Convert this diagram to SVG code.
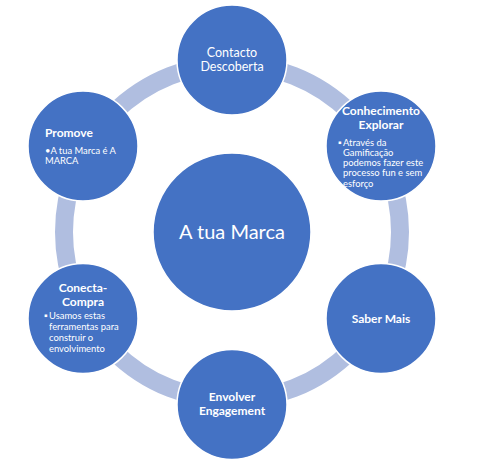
<svg xmlns="http://www.w3.org/2000/svg" width="481" height="474" viewBox="0 0 481 474">
<style>
.node{fill:#4472C4;stroke:#ffffff;stroke-width:1.5}
.t{font-family:Lato,"Open Sans","Liberation Sans",sans-serif;fill:#ffffff}
.h{font-size:12px;font-weight:bold;text-anchor:middle}
.hl{font-size:12px;font-weight:bold}
.n{font-size:12.5px;text-anchor:middle}
.b{font-size:9.4px}
</style>
<rect width="481" height="474" fill="#ffffff"/>
<g id="connectors">
<circle cx="232" cy="232" r="168" fill="none" stroke="#B0BEE0" stroke-width="18"/>
</g>
<g id="center">
<circle class="node" cx="232" cy="232" r="79"/>
<text class="t" x="232" y="238.5" font-size="20" text-anchor="middle">A tua Marca</text>
</g>
<g id="contacto">
<circle class="node" cx="232" cy="60" r="55"/>
<text class="t n" x="232" y="56.5">Contacto</text>
<text class="t n" x="232" y="70.5">Descoberta</text>
</g>
<g id="conhecimento">
<circle class="node" cx="381" cy="146" r="55"/>
<text class="t h" x="381" y="114.5">Conhecimento</text>
<text class="t h" x="381" y="128.5">Explorar</text>
<text class="t b" x="338" y="145.5">▪</text>
<text class="t b" x="343" y="145.5">Através da</text>
<text class="t b" x="343" y="155.8">Gamificação</text>
<text class="t b" x="343" y="166">podemos fazer este</text>
<text class="t b" x="343" y="176.2">processo fun e sem</text>
<text class="t b" x="343" y="186.5">esforço</text>
</g>
<g id="saber">
<circle class="node" cx="381" cy="318.5" r="55"/>
<text class="t h" x="381" y="322.5">Saber Mais</text>
</g>
<g id="envolver">
<circle class="node" cx="232" cy="404.5" r="55"/>
<text class="t h" x="232" y="401">Envolver</text>
<text class="t h" x="232" y="415">Engagement</text>
</g>
<g id="conecta">
<circle class="node" cx="83" cy="318.5" r="55"/>
<text class="t h" x="83" y="292">Conecta-</text>
<text class="t h" x="83" y="305.5">Compra</text>
<text class="t b" x="44" y="319">▪</text>
<text class="t b" x="49" y="319">Usamos estas</text>
<text class="t b" x="49" y="330.3">ferramentas para</text>
<text class="t b" x="49" y="341.3">construir o</text>
<text class="t b" x="49" y="352">envolvimento</text>
</g>
<g id="promove">
<circle class="node" cx="83" cy="146" r="55"/>
<text class="t hl" x="45" y="136.5">Promove</text>
<text class="t b" x="45" y="154">•A tua Marca é A</text>
<text class="t b" x="45" y="164.3">MARCA</text>
</g>
</svg>
